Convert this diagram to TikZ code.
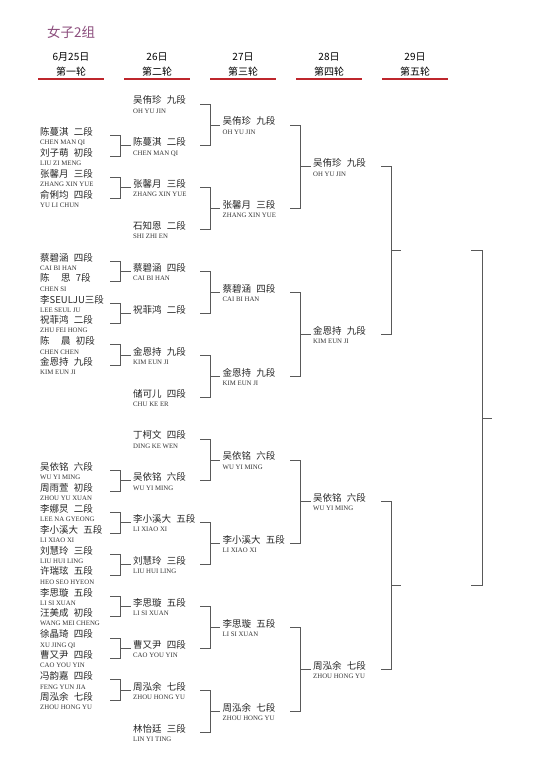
\documentclass[tikz,border=0pt]{standalone}
\usepackage{fontspec}
\newfontfamily\cjk{Noto Sans CJK SC}
\newfontfamily\romfont{Liberation Serif}
\usetikzlibrary{calc}

\definecolor{grouppurple}{RGB}{140,78,125}
\definecolor{rulered}{RGB}{190,38,44}

\newcommand{\dan}{\hspace{0.55em}}
% name line + romanised line, connectors hook on the name baseline
\newcommand{\player}[4]{%
  \node[cn] (#1) at (#2) {#3};
  \node[rom] (#1-r) at ([yshift=-9.2pt]#1.base west) {#4};
}

\tikzset{
  cn/.style={font=\cjk\fontsize{9.5}{10}\selectfont, text=black!85,
    inner xsep=2.5pt, inner ysep=0pt, anchor=base west},
  rom/.style={font=\romfont\fontsize{6.8}{7}\selectfont, text=black!80,
    inner xsep=2.5pt, inner ysep=0pt, anchor=base west},
  head/.style={font=\cjk\fontsize{10}{11}\selectfont, inner sep=0pt},
  link/.style={draw=black!65, line width=0.8pt},
  rule/.style={draw=rulered, line width=1.6pt},
}

\begin{document}
\begin{tikzpicture}[x=1pt, y=-1pt]
\useasboundingbox (0,0) rectangle (550,778);

% header
\node[head, font=\cjk\fontsize{13.5}{14}\selectfont, text=grouppurple, anchor=west] (group) at (47,32) {女子2组};
\foreach \dy/\rd [count=\i] in {6月25日/第一轮, 26日/第二轮, 27日/第三轮, 28日/第四轮, 29日/第五轮} {
  \node[head] (day\i) at ({71+86*(\i-1)},57) {\dy};
  \node[head] (round\i) at ({71+86*(\i-1)},72) {\rd};
  \draw[rule] ([xshift=-33pt,yshift=-7pt]round\i.center) -- ([xshift=33pt,yshift=-7pt]round\i.center);
}

% bracket columns
\coordinate (h1) at (110,0); \coordinate (v1) at (120,0);
\coordinate (h2) at (200,0); \coordinate (v2) at (210,0);
\coordinate (h3) at (290,0); \coordinate (v3) at (300,0);
\coordinate (h4) at (381,0); \coordinate (v4) at (391,0); \coordinate (o4) at (401,0);
\coordinate (h5) at (471,0); \coordinate (v5) at (482,0); \coordinate (o5) at (492,0);

% second round (16 slots)
\foreach \pn/\pr [count=\k from 0] in {
    吴侑珍\dan 九段/OH YU JIN, 陈蔓淇\dan 二段/CHEN MAN QI,
    张馨月\dan 三段/ZHANG XIN YUE, 石知恩\dan 二段/SHI ZHI EN,
    蔡碧涵\dan 四段/CAI BI HAN, 祝菲鸿\dan 二段/{},
    金恩持\dan 九段/KIM EUN JI, 储可儿\dan 四段/CHU KE ER,
    丁柯文\dan 四段/DING KE WEN, 吴依铭\dan 六段/WU YI MING,
    李小溪大\dan 五段/LI XIAO XI, 刘慧玲\dan 三段/LIU HUI LING,
    李思璇\dan 五段/LI SI XUAN, 曹又尹\dan 四段/CAO YOU YIN,
    周泓余\dan 七段/ZHOU HONG YU, 林怡廷\dan 三段/LIN YI TING} {
  \player{r2-\k}{130.5,{104+41.87*\k}}{\pn}{\pr}
}

% first round: slot / upper player / lower player
\foreach \s/\na/\ra/\nb/\rb in {
    1/陈蔓淇\dan 二段/CHEN MAN QI/刘子萌\dan 初段/LIU ZI MENG,
    2/张馨月\dan 三段/ZHANG XIN YUE/俞俐均\dan 四段/YU LI CHUN,
    4/蔡碧涵\dan 四段/CAI BI HAN/陈\hspace{1.2em}思\dan 7段/CHEN SI,
    5/李SEULJU三段/LEE SEUL JU/祝菲鸿\dan 二段/ZHU FEI HONG,
    6/陈\hspace{1.2em}晨\dan 初段/CHEN CHEN/金恩持\dan 九段/KIM EUN JI,
    9/吴依铭\dan 六段/WU YI MING/周雨萱\dan 初段/ZHOU YU XUAN,
    10/李娜炅\dan 二段/LEE NA GYEONG/李小溪大\dan 五段/LI XIAO XI,
    11/刘慧玲\dan 三段/LIU HUI LING/许瑞玹\dan 五段/HEO SEO HYEON,
    12/李思璇\dan 五段/LI SI XUAN/汪美成\dan 初段/WANG MEI CHENG,
    13/徐晶琦\dan 四段/XU JING QI/曹又尹\dan 四段/CAO YOU YIN,
    14/冯韵嘉\dan 四段/FENG YUN JIA/周泓余\dan 七段/ZHOU HONG YU} {
  \player{r1-\s-a}{37.5,{104+41.87*\s-10.35}}{\na}{\ra}
  \player{r1-\s-b}{37.5,{104+41.87*\s+10.35}}{\nb}{\rb}
  \draw[link] (r1-\s-a.base west -| h1) -- (r1-\s-a.base west -| v1)
    -- (r1-\s-b.base west -| v1) -- (r1-\s-b.base west -| h1);
  \draw[link] (r2-\s.base west -| v1) -- (r2-\s.base west);
}

% third round
\foreach \pn/\pr [count=\j from 0] in {
    吴侑珍\dan 九段/OH YU JIN, 张馨月\dan 三段/ZHANG XIN YUE,
    蔡碧涵\dan 四段/CAI BI HAN, 金恩持\dan 九段/KIM EUN JI,
    吴依铭\dan 六段/WU YI MING, 李小溪大\dan 五段/LI XIAO XI,
    李思璇\dan 五段/LI SI XUAN, 周泓余\dan 七段/ZHOU HONG YU} {
  \player{r3-\j}{220,{124.94+83.74*\j}}{\pn}{\pr}
  \pgfmathtruncatemacro\ka{2*\j}
  \pgfmathtruncatemacro\kb{2*\j+1}
  \draw[link] (r2-\ka.base west -| h2) -- (r2-\ka.base west -| v2)
    -- (r2-\kb.base west -| v2) -- (r2-\kb.base west -| h2);
  \draw[link] (r3-\j.base west -| v2) -- (r3-\j.base west);
}

% fourth round
\foreach \pn/\pr [count=\j from 0] in {
    吴侑珍\dan 九段/OH YU JIN, 金恩持\dan 九段/KIM EUN JI,
    吴依铭\dan 六段/WU YI MING, 周泓余\dan 七段/ZHOU HONG YU} {
  \player{r4-\j}{310.5,{166.81+167.48*\j}}{\pn}{\pr}
  \pgfmathtruncatemacro\ka{2*\j}
  \pgfmathtruncatemacro\kb{2*\j+1}
  \draw[link] (r3-\ka.base west -| h3) -- (r3-\ka.base west -| v3)
    -- (r3-\kb.base west -| v3) -- (r3-\kb.base west -| h3);
  \draw[link] (r4-\j.base west -| v3) -- (r4-\j.base west);
}

% fifth round, no names yet
\foreach \i/\ta/\tb in {1/0/1, 2/2/3} {
  \draw[link] (r4-\ta.base west -| h4) -- (r4-\ta.base west -| v4)
    -- (r4-\tb.base west -| v4) -- (r4-\tb.base west -| h4);
  \coordinate (semi\i) at ($(r4-\ta.base west)!.5!(r4-\tb.base west)$);
  \draw[link] (semi\i -| v4) -- (semi\i -| o4);
}
\coordinate (final) at ($(semi1)!.5!(semi2)$);
\draw[link] (semi1 -| h5) -- (semi1 -| v5) -- (semi2 -| v5) -- (semi2 -| h5);
\draw[link] (final -| v5) -- (final -| o5);
\end{tikzpicture}
\end{document}
